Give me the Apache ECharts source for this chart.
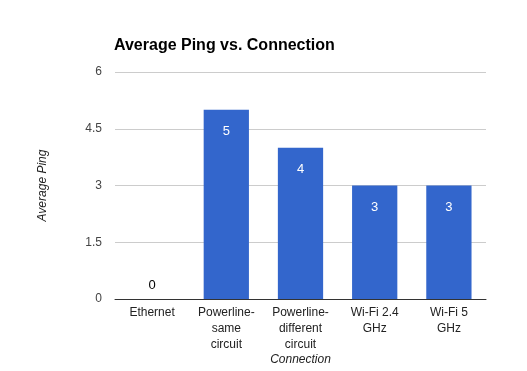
<!DOCTYPE html>
<html>
<head>
<meta charset="utf-8">
<script src="https://cdn.jsdelivr.net/npm/echarts@6/dist/echarts.min.js"></script>
<style>html,body{margin:0;padding:0;background:#fff;}#c{width:527px;height:371px;}</style>
</head>
<body>
<div id="c"></div>
<script>
const categories = ['Ethernet', 'Powerline-\nsame\ncircuit', 'Powerline-\ndifferent\ncircuit', 'Wi-Fi 2.4\nGHz', 'Wi-Fi 5\nGHz'];
const avgPing = [0, 5, 4, 3, 3];
const yTicks = [0, 1.5, 3, 4.5, 6];

const chart = echarts.init(document.getElementById('c'), null, {renderer: 'canvas'});
chart.setOption({
  animation: false,
  backgroundColor: '#fff',
  title: {
    text: 'Average Ping vs. Connection',
    left: 109, top: 33,
    textStyle: {fontFamily: 'Liberation Sans, Arial', fontSize: 16, fontWeight: 'bold', color: '#000'}
  },
  grid: {left: 115, right: 41, top: 72, bottom: 72, containLabel: false, outerBoundsMode: 'none'},
  xAxis: {
    type: 'category',
    data: categories,
    name: 'Connection',
    nameLocation: 'middle',
    nameGap: 55,
    nameMoveOverlap: false,
    nameTextStyle: {fontFamily: 'Liberation Sans, Arial', fontSize: 12, fontStyle: 'italic', color: '#222'},
    axisLine: {lineStyle: {color: '#333', width: 1}},
    axisTick: {show: false},
    axisLabel: {fontFamily: 'Liberation Sans, Arial', fontSize: 12, color: '#222', lineHeight: 16, margin: 6, interval: 0}
  },
  yAxis: {
    type: 'value',
    min: 0, max: 6, interval: 1.5,
    name: 'Average Ping',
    nameLocation: 'middle',
    nameGap: 66,
    nameRotate: 90,
    nameMoveOverlap: false,
    nameTextStyle: {fontFamily: 'Liberation Sans, Arial', fontSize: 12, fontStyle: 'italic', color: '#222'},
    axisLine: {show: false},
    axisTick: {show: false},
    splitLine: {lineStyle: {color: '#cccccc'}},
    axisLabel: {fontFamily: 'Liberation Sans, Arial', fontSize: 12, color: '#444', margin: 13,
      formatter: v => yTicks.includes(v) ? String(v) : ''}
  },
  series: [{
    type: 'bar',
    barWidth: '61%',
    itemStyle: {color: '#3366cc'},
    data: avgPing.map(v => ({
      value: v,
      label: v === 0
        ? {show: true, position: 'top', distance: 7, color: '#000', fontSize: 13, fontFamily: 'Liberation Sans, Arial'}
        : {show: true, position: 'insideTop', distance: 15, color: '#fff', fontSize: 13, fontFamily: 'Liberation Sans, Arial'}
    }))
  }]
});
</script>
</body>
</html>
